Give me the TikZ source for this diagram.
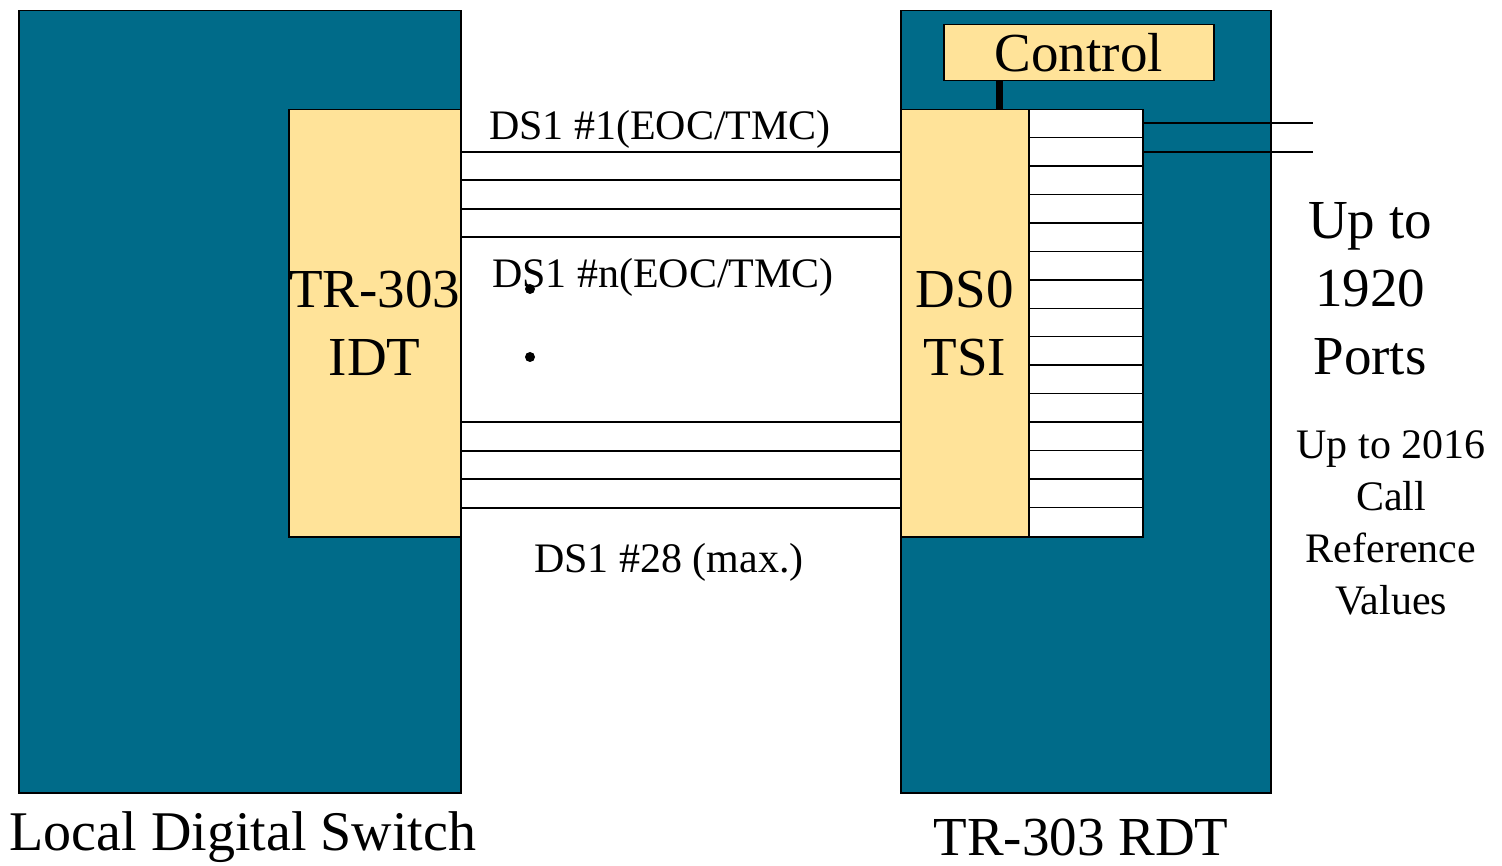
\documentclass[tikz,border=0pt]{standalone}
\usepackage{fontspec}
\setmainfont{Liberation Serif}
\definecolor{teal}{HTML}{006B89}
\definecolor{buff}{HTML}{FFE399}
\begin{document}
\begin{tikzpicture}[x=1pt,y=-1pt,
  bigbox/.style={draw=black,line width=1.5pt,fill=teal,anchor=north west,inner sep=0pt},
  ybox/.style={draw=black,line width=1.5pt,fill=buff,anchor=north west,inner sep=0pt,align=center,font=\fontsize{55}{68}\selectfont},
  wbox/.style={draw=black,line width=1.5pt,fill=white,anchor=north west,inner sep=0pt},
  link/.style={draw=black,line width=1.5pt},
  lbl/.style={font=\fontsize{42}{52}\selectfont,inner sep=0pt,align=center},
  big/.style={font=\fontsize{55}{68}\selectfont,inner sep=0pt,align=center}]
\useasboundingbox (0,0) rectangle (1502,866);
% main boxes
\node[bigbox,minimum width=442pt,minimum height=782pt] (lds) at (18,10) {};
\node[bigbox,minimum width=370pt,minimum height=782pt] (rdt) at (900,10) {};
\node[ybox,minimum width=172pt,minimum height=427pt] (idt) at (288,109) {TR-303\\IDT};
\node[ybox,minimum width=128pt,minimum height=427pt] (tsi) at (900,109) {DS0\\TSI};
\node[ybox,minimum width=270pt,minimum height=56pt] (ctl) at (943,24) {Control};
\node[wbox,minimum width=114pt,minimum height=427pt] (grid) at (1028,109) {};
% grid rows
\foreach \i in {1,...,14}{
  \draw[link] (grid.west |- 0,{109+\i*28.467}) -- (grid.east |- 0,{109+\i*28.467});
}
% control link
\draw[black,line width=7pt] (ctl.south -| 999,0) -- (tsi.north -| 999,0);
% DS1 links
\foreach \y in {152,180,209,237,422,451,479,508}{
  \draw[link] (idt.east |- 0,\y) -- (tsi.west |- 0,\y);
}
% port lines
\coordinate (p1) at (1313,123);
\coordinate (p2) at (1313,152);
\draw[link] (grid.east |- p1) -- (p1);
\draw[link] (grid.east |- p2) -- (p2);
% dots
\coordinate (d1) at (530,289);
\coordinate (d2) at (530,357);
\fill (d1) circle[radius=5pt];
\fill (d2) circle[radius=5pt];
% labels
\node[lbl] (l1) at (660,129) {DS1 \#1(EOC/TMC)};
\node[lbl] (l2) at (663,277) {DS1 \#n(EOC/TMC)};
\node[lbl] (l3) at (669,562) {DS1 \#28 (max.)};
\node[big] (ports) at (1370,289) {Up to\\1920\\Ports};
\node[lbl] (crv) at (1391,523) {Up to 2016\\Call\\Reference\\Values};
\node[big,font=\fontsize{56}{68}\selectfont] (t1) at (243,837) {Local Digital Switch};
\node[big] (t2) at (1081,837) {TR-303 RDT};
\end{tikzpicture}
\end{document}
